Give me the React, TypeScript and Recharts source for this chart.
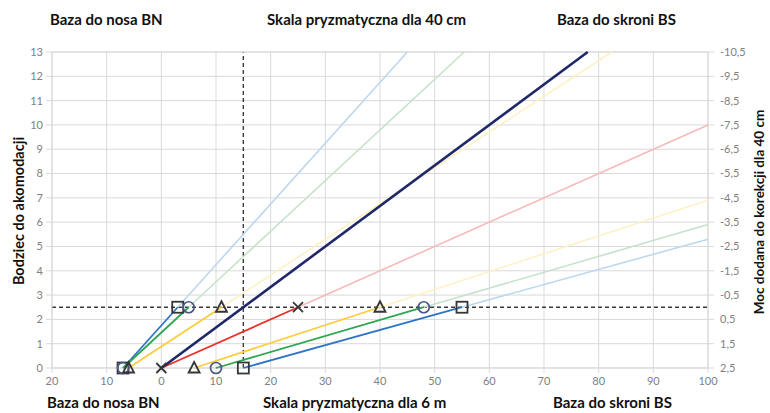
import React from 'react';
import {
  ComposedChart, Scatter, XAxis, YAxis, CartesianGrid, ReferenceLine,
} from 'recharts';

const X_TICKS = [-20, -10, 0, 10, 20, 30, 40, 50, 60, 70, 80, 90, 100];
const Y_TICKS = [0, 1, 2, 3, 4, 5, 6, 7, 8, 9, 10, 11, 12, 13];

// each series: start at y=0, marker at y=2.5, then faded continuation to chart edge
const blueNasal = [{ x: -7, y: 0 }, { x: 3, y: 2.5 }, { x: 45, y: 13 }];
const greenNasal = [{ x: -7, y: 0 }, { x: 5, y: 2.5 }, { x: 55.4, y: 13 }];
const yellowNasal = [{ x: -6, y: 0 }, { x: 11, y: 2.5 }, { x: 82.4, y: 13 }];
const navyOrtho = [{ x: 0, y: 0 }, { x: 78, y: 13 }];
const redTemporal = [{ x: 0, y: 0 }, { x: 25, y: 2.5 }, { x: 100, y: 10 }];
const yellowTemporal = [{ x: 6, y: 0 }, { x: 40, y: 2.5 }, { x: 100, y: 6.9 }];
const greenTemporal = [{ x: 10, y: 0 }, { x: 48, y: 2.5 }, { x: 100, y: 5.9 }];
const blueTemporal = [{ x: 15, y: 0 }, { x: 55, y: 2.5 }, { x: 100, y: 5.3 }];

const squares = [{ x: -7, y: 0 }, { x: 15, y: 0 }, { x: 3, y: 2.5 }, { x: 55, y: 2.5 }];
const circles = [{ x: -7, y: 0 }, { x: 10, y: 0 }, { x: 5, y: 2.5 }, { x: 48, y: 2.5 }];
const triangles = [{ x: -6, y: 0 }, { x: 6, y: 0 }, { x: 11, y: 2.5 }, { x: 40, y: 2.5 }];
const crosses = [{ x: 0, y: 0 }, { x: 25, y: 2.5 }];

const SERIES = [
  { data: blueNasal, color: '#2f74c6', light: '#bdd7ee' },
  { data: greenNasal, color: '#2fa650', light: '#c5e3cb' },
  { data: yellowNasal, color: '#ffcb3d', light: '#fff0c6' },
  { data: redTemporal, color: '#e9322a', light: '#f7baba' },
  { data: yellowTemporal, color: '#ffcb3d', light: '#fff0c6' },
  { data: greenTemporal, color: '#2fa650', light: '#c5e3cb' },
  { data: blueTemporal, color: '#2f74c6', light: '#bdd7ee' },
];

const FONT = 'Lato, "Open Sans", sans-serif';
const GRID = '#d9d9d9';
const MARK = '#363636';
const tickStyle = { fontSize: 11, fill: '#808080', fontFamily: FONT };

const none = () => <g />;

const Square = ({ cx, cy }: any) => (
  <rect x={cx - 5.5} y={cy - 5.5} width={11} height={11} fill="none" stroke={MARK} strokeWidth={1.8} />
);
const Circle = ({ cx, cy }: any) => (
  <circle cx={cx} cy={cy} r={5.5} fill="none" stroke="#4a5686" strokeWidth={1.7} />
);
const Triangle = ({ cx, cy }: any) => (
  <path d={`M${cx},${cy - 6}L${cx + 5.5},${cy + 4.5}L${cx - 5.5},${cy + 4.5}Z`} fill="none" stroke={MARK} strokeWidth={1.8} />
);
const Cross = ({ cx, cy }: any) => (
  <path d={`M${cx - 5},${cy - 5}L${cx + 5},${cy + 5}M${cx - 5},${cy + 5}L${cx + 5},${cy - 5}`} stroke={MARK} strokeWidth={1.8} />
);

const title: React.CSSProperties = {
  position: 'absolute', fontFamily: FONT, fontWeight: 700, fontSize: 15, lineHeight: '18px', color: '#111', whiteSpace: 'nowrap',
};
const vTitle: React.CSSProperties = { ...title, fontSize: 14.5, transform: 'translate(-50%, -50%) rotate(-90deg)' };

export default function App() {
  return (
    <div style={{ position: 'absolute', left: 0, top: 0, width: 770, height: 413, background: '#fff' }}>
      <ComposedChart width={770} height={413} margin={{ top: 0, right: 0, bottom: 0, left: 0 }}>
        <CartesianGrid stroke={GRID} xAxisId="b" yAxisId="l" />
        <XAxis
          xAxisId="b" type="number" dataKey="x" domain={[-20, 100]} ticks={X_TICKS}
          height={45} tick={tickStyle} tickSize={5} tickMargin={4}
          stroke={GRID} tickFormatter={(v: number) => String(Math.abs(v))}
        />
        <XAxis
          xAxisId="t" orientation="top" type="number" domain={[-20, 100]} ticks={X_TICKS}
          allowDataOverflow height={52} tick={tickStyle} tickSize={5} tickMargin={6}
          stroke={GRID} tickFormatter={(v: number) => String(Math.abs(v - 15))}
        />
        <YAxis
          yAxisId="l" type="number" dataKey="y" domain={[0, 13]} ticks={Y_TICKS}
          width={52} tick={tickStyle} tickSize={6} tickMargin={3} stroke={GRID}
        />
        <YAxis
          yAxisId="r" orientation="right" type="number" domain={[0, 13]} ticks={Y_TICKS}
          allowDataOverflow width={62} tick={{ ...tickStyle, textAnchor: 'start' }} tickSize={6} tickMargin={6}
          stroke={GRID} tickFormatter={(v: number) => String(2.5 - v).replace('.', ',')}
        />

        {SERIES.map((s, i) => (
          <Scatter
            key={`f${i}`} xAxisId="b" yAxisId="l" data={s.data.slice(1)} shape={none}
            line={{ stroke: s.light, strokeWidth: 1.6 }} isAnimationActive={false}
          />
        ))}
        {SERIES.map((s, i) => (
          <Scatter
            key={`s${i}`} xAxisId="b" yAxisId="l" data={s.data.slice(0, 2)} shape={none}
            line={{ stroke: s.color, strokeWidth: 1.8 }} isAnimationActive={false}
          />
        ))}
        <Scatter
          xAxisId="b" yAxisId="l" data={navyOrtho} shape={none}
          line={{ stroke: '#1f2868', strokeWidth: 2.6 }} isAnimationActive={false}
        />

        <ReferenceLine xAxisId="b" yAxisId="l" y={2.5} stroke="#3a3a3a" strokeWidth={1.4} strokeDasharray="4 3" />
        <ReferenceLine xAxisId="b" yAxisId="l" x={15} stroke="#3a3a3a" strokeWidth={1.4} strokeDasharray="4 3" />

        <Scatter xAxisId="b" yAxisId="l" data={squares} shape={Square} isAnimationActive={false} />
        <Scatter xAxisId="b" yAxisId="l" data={circles} shape={Circle} isAnimationActive={false} />
        <Scatter xAxisId="b" yAxisId="l" data={triangles} shape={Triangle} isAnimationActive={false} />
        <Scatter xAxisId="b" yAxisId="l" data={crosses} shape={Cross} isAnimationActive={false} />
      </ComposedChart>

      <div style={{ ...title, left: 50, top: 10 }}>Baza do nosa BN</div>
      <div style={{ ...title, left: 267, top: 10 }}>Skala pryzmatyczna dla 40 cm</div>
      <div style={{ ...title, left: 557, top: 10 }}>Baza do skroni BS</div>
      <div style={{ ...title, left: 47, top: 393 }}>Baza do nosa BN</div>
      <div style={{ ...title, left: 263, top: 393 }}>Skala pryzmatyczna dla 6 m</div>
      <div style={{ ...title, left: 553, top: 393 }}>Baza do skroni BS</div>
      <div style={{ ...vTitle, left: 19, top: 211 }}>Bodziec do akomodacji</div>
      <div style={{ ...vTitle, fontSize: 13.5, left: 759, top: 212 }}>Moc dodana do korekcji dla 40 cm</div>
    </div>
  );
}
